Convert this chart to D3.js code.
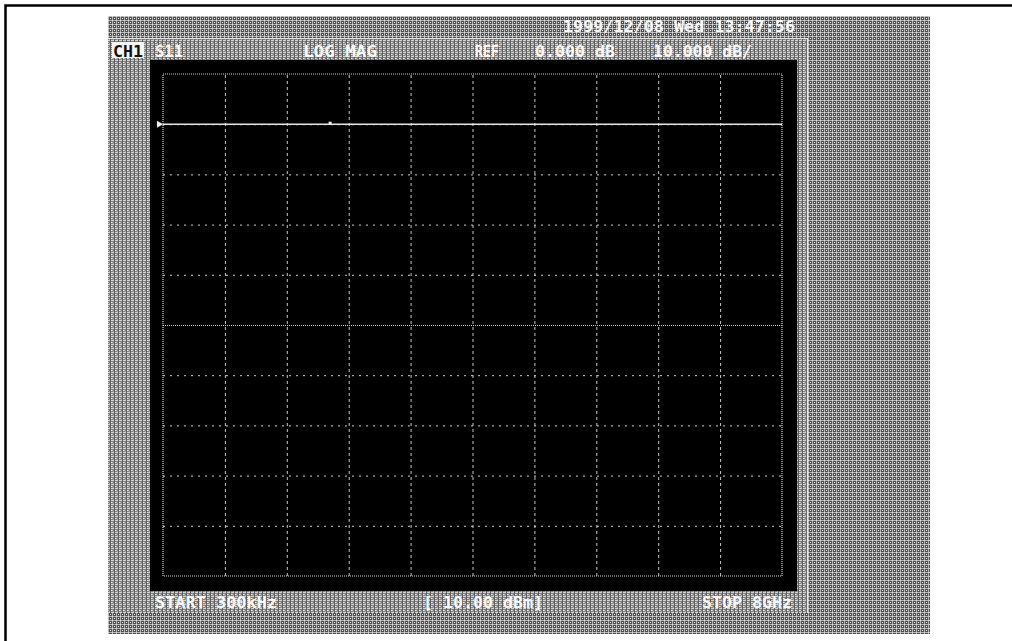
<!DOCTYPE html>
<html>
<head>
<meta charset="utf-8">
<script src="https://cdn.jsdelivr.net/npm/d3@7"></script>
<style>
  html, body { margin: 0; padding: 0; background: #fff; overflow: hidden; }
  svg { display: block; }
  .lbl { font-family: "DejaVu Sans Mono", "Liberation Mono", monospace; font-weight: bold; font-size: 16px; fill: #f8f8f8; }
</style>
</head>
<body>
<svg id="chart" width="1012" height="641"></svg>
<script>
// ---- data ----
const startFreqGHz = 0.0003;   // START 300kHz
const stopFreqGHz = 8;         // STOP 8GHz
const refLevelDb = 0;          // REF 0.000 dB
const scaleDbPerDiv = 10;      // 10.000 dB/
const xDivisions = [0, 1, 2, 3, 4, 5, 6, 7, 8, 9, 10];
const yGridDb = [10, 0, -10, -20, -30, -40, -50, -60, -70, -80, -90];
const traceFreqGHz = [0.0003, 1, 2, 3, 4, 5, 6, 7, 8];
const traceDb = [0, 0, 0, 0, 0, 0, 0, 0, 0];
const markerFreqGHz = [2.16];
const markerDb = [0.2];
const headerDate = "1999/12/08 Wed 13:47:56";
const headerLabels = ["S11", "LOG MAG", "REF", "0.000 dB", "10.000 dB/"];
const footerLabels = ["START 300kHz", "[ 10.00 dBm]", "STOP 8GHz"];

// ---- layout ----
const svg = d3.select("#chart");
const G = { left: 163, right: 782, top: 74, bottom: 576 };

const defs = svg.append("defs");
function dither(id, base, pix) {
  const p = defs.append("pattern").attr("id", id).attr("width", 4).attr("height", 4)
    .attr("patternUnits", "userSpaceOnUse");
  p.append("rect").attr("width", 4).attr("height", 4).attr("fill", base);
  pix.forEach(d => p.append("rect").attr("x", d[0]).attr("y", d[1]).attr("width", d[3] || 1).attr("height", d[4] || 1).attr("fill", d[2]));
}
// crosshatch-like dithers
dither("outerDither", "#4e4e4e", [[0,0,"#b4b4b4",4,1],[0,0,"#b4b4b4",1,4],[2,2,"#f0f0f0"],[0,0,"#e0e0e0"]]);
dither("innerDither", "#7e7e7e", [[0,0,"#d4d4d4",4,1],[2,0,"#5c5c5c",1,4],[0,2,"#c8c8c8"],[3,2,"#f4f4f4"],[1,3,"#a8a8a8"]]);

// frame border
svg.append("rect").attr("x", 5.5).attr("y", 5.5).attr("width", 1100).attr("height", 800)
  .attr("fill", "#fff").attr("stroke", "#000").attr("stroke-width", 2.5);

// outer dithered panel
svg.append("rect").attr("x", 108).attr("y", 16).attr("width", 822).attr("height", 618)
  .attr("fill", "url(#outerDither)").attr("shape-rendering", "crispEdges");
// inner dithered panel
svg.append("rect").attr("x", 108).attr("y", 38).attr("width", 699).attr("height", 575)
  .attr("fill", "url(#innerDither)").attr("shape-rendering", "crispEdges");
// light border lines of the inner panel
svg.append("path").attr("d", "M108,38.5H807.5V613")
  .attr("fill", "none").attr("stroke", "#e8e8e8").attr("stroke-width", 1.2);
// black screen
svg.append("rect").attr("x", 150).attr("y", 60).attr("width", 647).attr("height", 531)
  .attr("fill", "#000");

// scales
const x = d3.scaleLinear().domain([startFreqGHz, stopFreqGHz]).range([G.left, G.right]);
const xDiv = d3.scaleLinear().domain([0, 10]).range([G.left, G.right]);
const y = d3.scaleLinear()
  .domain([refLevelDb - 9 * scaleDbPerDiv, refLevelDb + scaleDbPerDiv])
  .range([G.bottom, G.top]);

// vertical grid
const gx = svg.append("g").attr("transform", `translate(0,${G.bottom})`)
  .call(d3.axisBottom(xDiv).tickValues(xDivisions.slice(1, -1)).tickSize(-(G.bottom - G.top)).tickFormat(""));
gx.select(".domain").remove();
gx.selectAll(".tick line").attr("stroke", "#c8c8c8").attr("stroke-width", 1)
  .attr("stroke-dasharray", "3,3");

// horizontal grid
const gy = svg.append("g").attr("transform", `translate(${G.left},0)`)
  .call(d3.axisLeft(y).tickValues(yGridDb.slice(1, -1)).tickSize(-(G.right - G.left)).tickFormat(""));
gy.select(".domain").remove();
gy.selectAll(".tick line").attr("stroke", "#d0d0d0").attr("stroke-width", 1)
  .attr("stroke-dasharray", d => d === -40 ? "1,1" : "2,5");

// dotted outer grid frame
svg.append("rect").attr("x", G.left).attr("y", G.top)
  .attr("width", G.right - G.left).attr("height", G.bottom - G.top)
  .attr("fill", "none").attr("stroke", "#d8d8d8").attr("stroke-width", 1.2)
  .attr("stroke-dasharray", "1,1");

// trace
const line = d3.line().x((d, i) => x(traceFreqGHz[i])).y(d => y(d));
svg.append("path").datum(traceDb).attr("d", line)
  .attr("fill", "none").attr("stroke", "#e6e6e6").attr("stroke-width", 1.6);

// reference position marker (triangle)
const ry = y(refLevelDb);
svg.append("path").attr("d", d3.symbol().type(d3.symbolTriangle).size(22))
  .attr("transform", `translate(${G.left - 4},${ry}) rotate(90)`)
  .attr("fill", "#f0f0f0");

// marker dot
svg.selectAll(".mk").data(markerDb).enter().append("rect")
  .attr("x", (d, i) => x(markerFreqGHz[i]) - 1.5).attr("y", d => y(d) - 1.5)
  .attr("width", 3).attr("height", 3).attr("fill", "#f0f0f0");

// ---- texts ----
function label(t, x0, x1, yb, fill) {
  const el = svg.append("text").attr("class", "lbl").attr("x", x0).attr("y", yb)
    .attr("textLength", x1 - x0).attr("lengthAdjust", "spacingAndGlyphs").text(t);
  if (fill) el.style("fill", fill);
  return el;
}
label(headerDate, 563, 795, 32);

svg.append("rect").attr("x", 112).attr("y", 42).attr("width", 32).attr("height", 16).attr("fill", "#f4f4f4");
label("CH1", 113, 143, 57, "#111");
const hx = [[155, 183], [303, 377], [475, 499], [535, 615], [653, 752]];
headerLabels.forEach((t, i) => label(t, hx[i][0], hx[i][1], 57));
const fx = [[155, 277], [423, 543], [702, 792]];
footerLabels.forEach((t, i) => label(t, fx[i][0], fx[i][1], 608));
</script>
</body>
</html>
